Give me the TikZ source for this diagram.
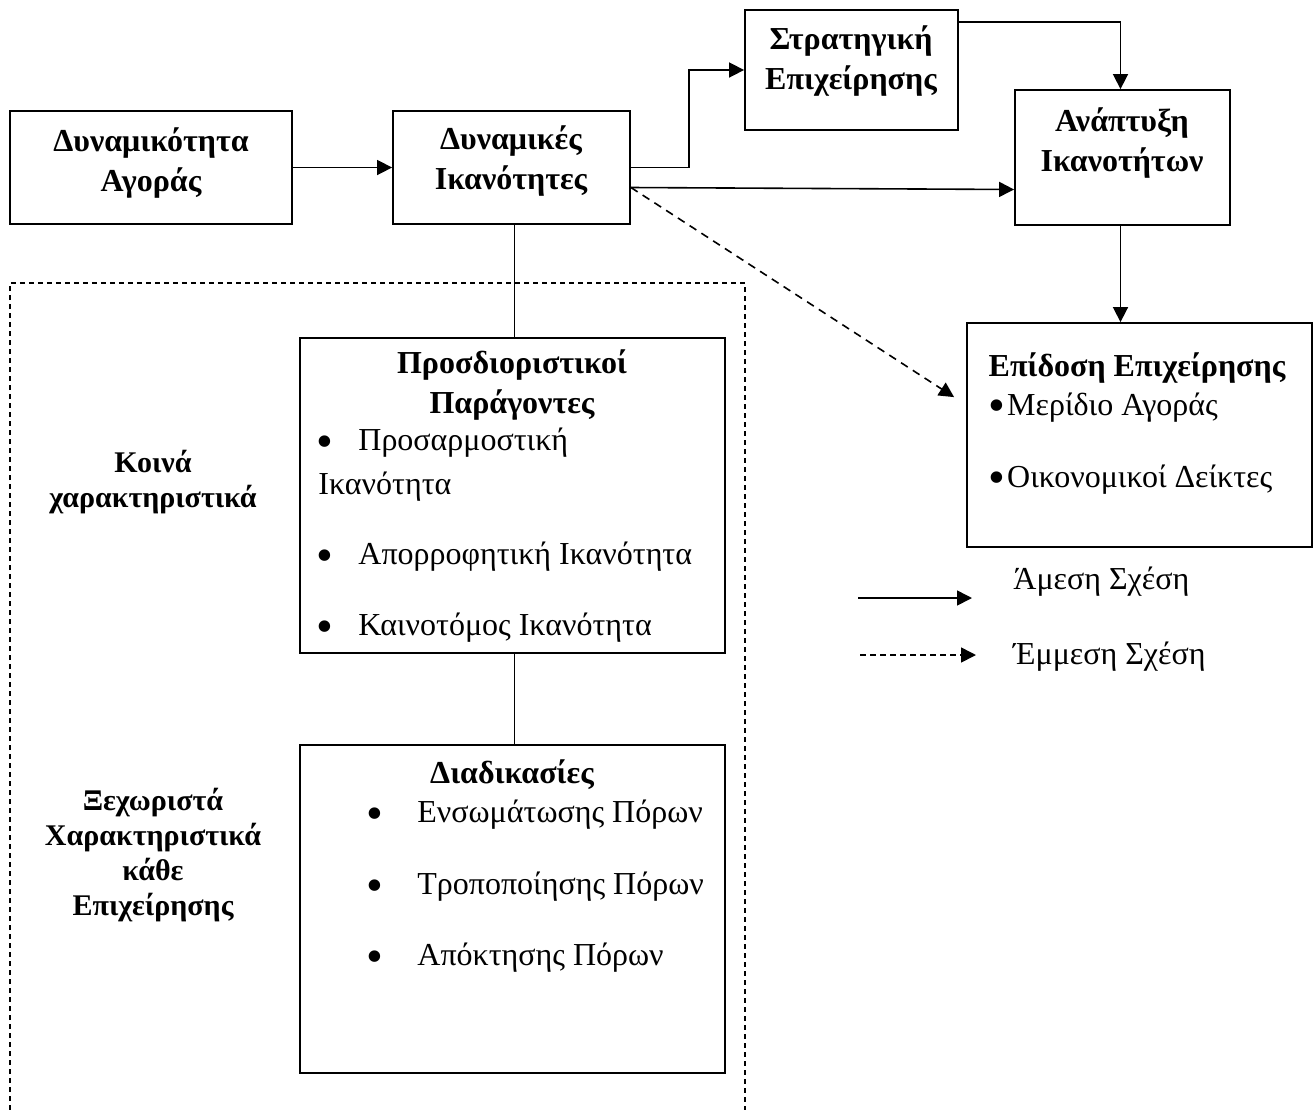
\documentclass[tikz,border=0pt]{standalone}
\usepackage{fontspec}
\setmainfont{Liberation Serif}
\usetikzlibrary{arrows.meta}
\newcommand\bigdot{\raisebox{-2.6pt}{\scalebox{1.5}{•}}}
\begin{document}
\begin{tikzpicture}[
		x = 0.5pt, y = -0.5pt,
		frame/.style = {draw, line width = 0.9pt, inner sep = 0pt},
		title/.style = {font = \fontsize{16}{20}\selectfont\bfseries, align = center, inner sep = 0pt},
		side/.style = {font = \fontsize{15}{17.5}\selectfont\bfseries, align = center, inner sep = 0pt},
		item/.style = {font = \fontsize{16}{20}\selectfont, anchor = west, inner sep = 0pt},
		link/.style = {line width = 0.8pt, -{Triangle[length = 7.5pt, width = 7.5pt]}},
		hint/.style = {link, dash pattern = on 4pt off 3pt},
	]
	\useasboundingbox (0,0) rectangle (1314,1110);
	% outer dashed frame
	\draw[line width = 0.6pt, dash pattern = on 2.5pt off 2pt] (10,1110) -- (10,283) -- (745,283) -- (745,1110);
	% boxes
	\node[frame, minimum width = 141pt, minimum height = 56.5pt] (market) at (151,167.5) {};
	\node[frame, minimum width = 118.5pt, minimum height = 56.5pt] (dyncap) at (511.5,167.5) {};
	\node[frame, minimum width = 106.5pt, minimum height = 60pt] (strategy) at (851.5,70) {};
	\node[frame, minimum width = 107.5pt, minimum height = 67.5pt] (capdev) at (1122.5,157.5) {};
	\node[frame, minimum width = 172.5pt, minimum height = 112pt] (perf) at (1139.5,435) {};
	\node[frame, minimum width = 212.5pt, minimum height = 157.5pt] (determ) at (512.5,495.5) {};
	\node[frame, minimum width = 212.5pt, minimum height = 164pt] (proc) at (512.5,909) {};
	% titles
	\node[title] (market-t) at (151,163) {Δυναμικότητα\\Αγοράς};
	\node[title] (dyncap-t) at (511,161) {Δυναμικές\\Ικανότητες};
	\node[title] (strategy-t) at (851,61) {Στρατηγική\\Επιχείρησης};
	\node[title] (capdev-t) at (1122,143) {Ανάπτυξη\\Ικανοτήτων};
	\node[title] (perf-t) at (1137,368) {Επίδοση Επιχείρησης};
	\node[title] (determ-t) at (512,385) {Προσδιοριστικοί\\Παράγοντες};
	\node[title] (proc-t) at (512,775) {Διαδικασίες};
	\node[side] (common) at (153,482) {Κοινά\\χαρακτηριστικά};
	\node[side] (specific) at (153,855) {Ξεχωριστά\\Χαρακτηριστικά\\κάθε\\Επιχείρησης};
	% performance items
	\node[item] (perf-1) at (988,408) {\bigdot\hspace{1pt}Μερίδιο Αγοράς};
	\node[item] (perf-2) at (988,480) {\bigdot\hspace{1pt}Οικονομικοί Δείκτες};
	% determinant items
	\node[item] (determ-b1) at (316,447) {\bigdot};
	\node[item] (determ-1) at (358,443) {Προσαρμοστική};
	\node[item] (determ-1b) at (318,487) {Ικανότητα};
	\node[item] (determ-b2) at (316,561) {\bigdot};
	\node[item] (determ-2) at (358,557) {Απορροφητική Ικανότητα};
	\node[item] (determ-b3) at (316,632) {\bigdot};
	\node[item] (determ-3) at (358,628) {Καινοτόμος Ικανότητα};
	% process items
	\node[item] (proc-b1) at (366,819) {\bigdot};
	\node[item] (proc-1) at (417,815) {Ενσωμάτωσης Πόρων};
	\node[item] (proc-b2) at (366,891) {\bigdot};
	\node[item] (proc-2) at (417,887) {Τροποποίησης Πόρων};
	\node[item] (proc-b3) at (366,962) {\bigdot};
	\node[item] (proc-3) at (417,958) {Απόκτησης Πόρων};
	% connectors
	\draw[link] (market.east) -- (dyncap.west);
	\draw[link] (dyncap.east) -- ++(58,0) |- (strategy.west);
	\draw[link] ([yshift = -10pt]dyncap.east) -- ([yshift = -16pt]capdev.west);
	\draw[hint] ([yshift = -10pt]dyncap.east) -- ([xshift = -6pt, yshift = -37.5pt]perf.north west);
	\draw[link] ([yshift = 24pt]strategy.east) -| ([xshift = -1pt]capdev.north);
	\draw[link] ([xshift = -1pt]capdev.south) -- ([xshift = -1pt]capdev.south |- perf.north);
	\draw[line width = 0.8pt] ([xshift = 1.5pt]dyncap.south) -- ([xshift = 1.5pt]dyncap.south |- determ.north);
	\draw[line width = 0.8pt] ([xshift = 1pt]determ.south) -- ([xshift = 1pt]determ.south |- proc.north);
	% legend
	\coordinate (solid-a) at (858,598);
	\coordinate (solid-b) at (972,598);
	\coordinate (dash-a) at (860,655);
	\coordinate (dash-b) at (976,655);
	\draw[link] (solid-a) -- (solid-b);
	\draw[hint, dash pattern = on 3pt off 2pt] (dash-a) -- (dash-b);
	\node[item] (solid-t) at (1013,582) {Άμεση Σχέση};
	\node[item] (dash-t) at (1013,657) {Έμμεση Σχέση};
\end{tikzpicture}
\end{document}
